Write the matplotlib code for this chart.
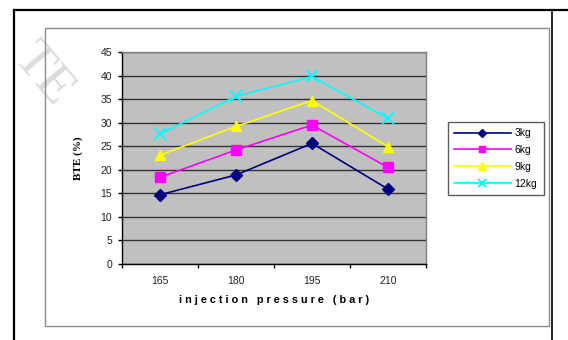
import matplotlib.pyplot as plt
from matplotlib.patches import Rectangle
from matplotlib.lines import Line2D

# data
pressure = ['165', '180', '195', '210']
bte_3kg = [14.7, 18.9, 25.6, 15.9]
bte_6kg = [18.4, 24.2, 29.5, 20.5]
bte_9kg = [23.1, 29.2, 34.7, 24.9]
bte_12kg = [27.6, 35.6, 39.8, 30.9]
labels = ['3kg', '6kg', '9kg', '12kg']

plt.rcParams['font.family'] = ['Liberation Sans', 'DejaVu Sans']

fig = plt.figure(figsize=(5.68, 3.40), dpi=100)

# faint watermark in the top left corner
fig.text(0.075, 0.78, 'TE', family='Liberation Serif', fontsize=38, color='#dcdcdc',
         rotation=-50, ha='center', va='center', zorder=0)

# outer black frame and inner grey frame (pixel coords)
W, H = 568, 340
def fx(x): return x / W
def fy(y): return 1 - y / H
fig.add_artist(Line2D([fx(14), 1.0], [fy(10), fy(10)], color='black', lw=1.6))
fig.add_artist(Line2D([fx(14), fx(14)], [fy(10), 0], color='black', lw=1.6))
fig.add_artist(Line2D([fx(552), fx(552)], [fy(10), 0], color='black', lw=1.2))
fig.add_artist(Rectangle((fx(45), fy(326)), fx(549) - fx(45), fy(28) - fy(326),
                         fill=False, edgecolor='#8c8c8c', lw=1.0))

ax = fig.add_axes([fx(122), fy(264), fx(426) - fx(122), fy(52) - fy(264)])
ax.set_facecolor('#c0c0c0')

x = range(len(pressure))
ax.plot(x, bte_3kg, color='#000080', marker='D', ms=6, lw=1.2, label=labels[0])
ax.plot(x, bte_6kg, color='#ff00ff', marker='s', ms=6.5, lw=1.2, label=labels[1])
ax.plot(x, bte_9kg, color='#ffff00', marker='^', ms=7.5, lw=1.2, label=labels[2])
ax.plot(x, bte_12kg, color='#00ffff', marker='x', ms=8, mew=1.4, lw=1.2, label=labels[3])

ax.set_xlim(-0.5, 3.5)
ax.set_ylim(0, 45)
ax.set_yticks(range(0, 50, 5))
ax.set_xticks([-0.5, 0.5, 1.5, 2.5, 3.5])
ax.set_xticklabels([])
ax.set_xticks(list(x), minor=True)
ax.set_xticklabels(pressure, minor=True)
ax.tick_params(axis='x', which='minor', length=0, pad=9, labelsize=7.5, colors='#222222')
ax.tick_params(axis='x', which='major', length=3, direction='out', width=1)
ax.tick_params(axis='y', length=3, direction='out', width=1, labelsize=7.5, pad=4,
               colors='#222222')
ax.tick_params(axis='both', which='both', color='black')

ax.yaxis.grid(True, color='#333333', lw=1.0)
ax.set_axisbelow(True)
for s in ['left', 'bottom']:
    ax.spines[s].set_color('black')
    ax.spines[s].set_linewidth(1.0)
for s in ['top', 'right']:
    ax.spines[s].set_color('#808080')
    ax.spines[s].set_linewidth(1.0)

ax.set_xlabel('i n j e c t i o n   p r e s s u r e   ( b a r )', fontsize=7.8,
              fontweight='bold', labelpad=6)
ax.set_ylabel('BTE (%)', fontsize=8, fontweight='bold', family='Liberation Serif',
              labelpad=13)

leg = ax.legend(loc='upper left', bbox_to_anchor=(fx(448 - 122) / fx(304), (fy(122) - fy(264)) / (fy(52) - fy(264))),
                fontsize=7.5, frameon=True, fancybox=False, handlelength=5.4,
                markerscale=0.75, borderpad=0.6, labelspacing=0.65, handletextpad=0.4,
                borderaxespad=0)
leg.get_frame().set_edgecolor('#333333')
leg.get_frame().set_linewidth(1.0)

fig.savefig('out.png', dpi=100)
